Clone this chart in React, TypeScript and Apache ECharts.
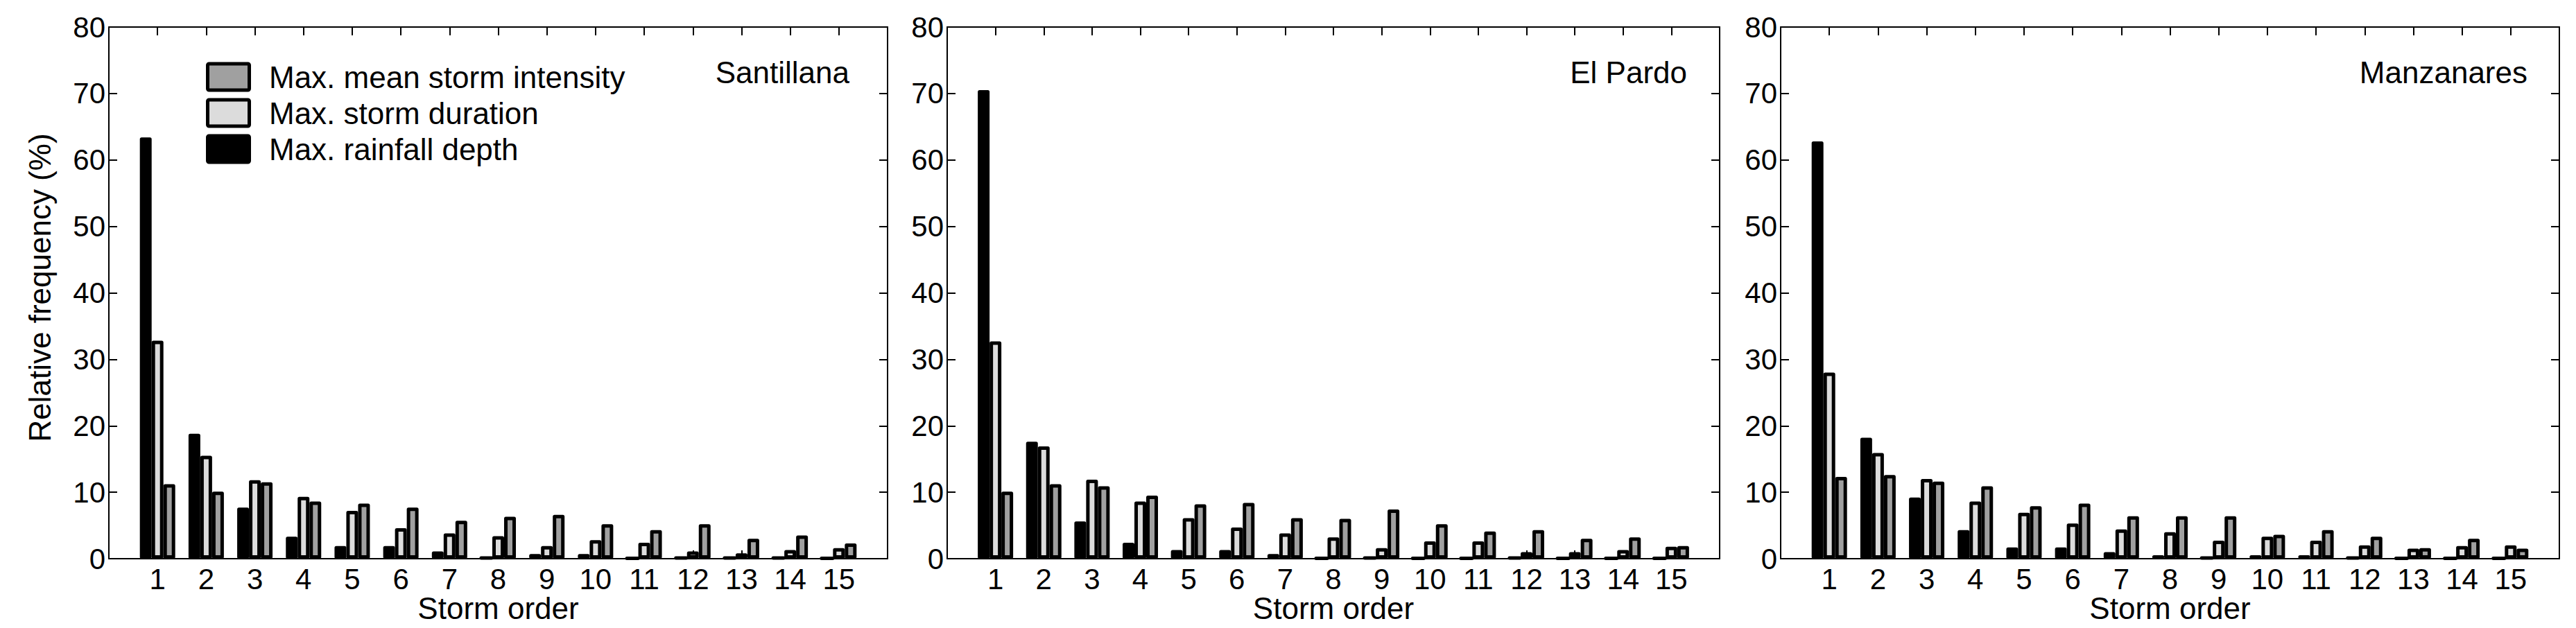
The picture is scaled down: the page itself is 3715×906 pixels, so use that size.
import React, { useEffect, useRef } from "react";
import * as echarts from "echarts";

const stormOrder = [1, 2, 3, 4, 5, 6, 7, 8, 9, 10, 11, 12, 13, 14, 15];
const yTicks = [0, 10, 20, 30, 40, 50, 60, 70, 80];

const seriesNames = ["Max. rainfall depth", "Max. storm duration", "Max. mean storm intensity"];
const legendOrder = [2, 1, 0];
const stations = ["Santillana", "El Pardo", "Manzanares"];

const santillanaDepth = [63.4, 18.8, 7.7, 3.3, 1.9, 1.9, 1.1, 0.2, 0.7, 0.7, 0.1, 0.2, 0.2, 0.2, 0.1];
const santillanaDuration = [32.8, 15.5, 11.8, 9.3, 7.2, 4.6, 3.8, 3.4, 1.9, 2.8, 2.4, 1.1, 0.8, 1.3, 1.6];
const santillanaIntensity = [11.2, 10.1, 11.5, 8.6, 8.3, 7.7, 5.7, 6.3, 6.6, 5.2, 4.3, 5.2, 3.0, 3.5, 2.3];

const elPardoDepth = [70.5, 17.6, 5.6, 2.4, 1.3, 1.3, 0.7, 0.1, 0.2, 0.1, 0.1, 0.2, 0.1, 0.1, 0.1];
const elPardoDuration = [32.7, 16.9, 11.9, 8.6, 6.1, 4.7, 3.8, 3.2, 1.6, 2.6, 2.6, 1.0, 1.0, 1.3, 1.8];
const elPardoIntensity = [10.1, 11.2, 10.9, 9.5, 8.2, 8.4, 6.1, 6.0, 7.4, 5.2, 4.1, 4.3, 3.0, 3.2, 1.9];

const manzanaresDepth = [62.8, 18.2, 9.2, 4.3, 1.7, 1.7, 1.0, 0.5, 0.2, 0.5, 0.5, 0.2, 0.1, 0.1, 0.1];
const manzanaresDuration = [28.0, 15.9, 12.0, 8.6, 6.9, 5.3, 4.4, 4.0, 2.7, 3.3, 2.7, 2.0, 1.5, 1.9, 2.0];
const manzanaresIntensity = [12.3, 12.6, 11.6, 10.9, 7.9, 8.3, 6.4, 6.4, 6.4, 3.6, 4.3, 3.3, 1.6, 3.0, 1.5];

const panelData = [
  [santillanaDepth, santillanaDuration, santillanaIntensity],
  [elPardoDepth, elPardoDuration, elPardoIntensity],
  [manzanaresDepth, manzanaresDuration, manzanaresIntensity],
];

const FONT = "'Liberation Sans', Arial, Helvetica, sans-serif";
const barColors = ["#000000", "#dcdcdc", "#a0a0a0"];
const panels = [
  { left: 157, width: 1123, labelX: 1225 },
  { left: 1366, width: 1114, labelX: 2433 },
  { left: 2568, width: 1123, labelX: 3645 },
];
const TOP = 39;
const HEIGHT = 767;

export default function App() {
  const ref = useRef<HTMLDivElement>(null);
  useEffect(() => {
    if (!ref.current) return;
    const chart = echarts.init(ref.current, undefined, { renderer: "svg" });
    const line = { color: "#000", width: 2 };
    const grid: any[] = [];
    const xAxis: any[] = [];
    const yAxis: any[] = [];
    const series: any[] = [];
    const graphic: any[] = [];
    panels.forEach((p, i) => {
      grid.push({ left: p.left, top: TOP, width: p.width, height: HEIGHT, containLabel: false });
      xAxis.push({
        type: "value", gridIndex: i, min: 0, max: 16, interval: 1, position: "bottom",
        axisLine: { show: true, onZero: false, lineStyle: line },
        axisTick: { show: true, inside: true, length: 12, lineStyle: line },
        axisLabel: {
          formatter: (v: number) => (stormOrder.includes(v) ? String(v) : ""),
          color: "#000", fontSize: 42, fontFamily: FONT, margin: 8,
        },
        splitLine: { show: false },
      });
      xAxis.push({
        type: "value", gridIndex: i, min: 0, max: 16, interval: 1, position: "top",
        axisLine: { show: true, onZero: false, lineStyle: line },
        axisTick: { show: true, inside: true, length: 12, lineStyle: line },
        axisLabel: { show: false },
        splitLine: { show: false },
      });
      yAxis.push({
        type: "value", gridIndex: i, min: yTicks[0], max: yTicks[yTicks.length - 1], interval: 10, position: "left",
        axisLine: { show: true, onZero: false, lineStyle: line },
        axisTick: { show: true, inside: true, length: 12, lineStyle: line },
        axisLabel: { color: "#000", fontSize: 42, fontFamily: FONT, margin: 5 },
        splitLine: { show: false },
      });
      yAxis.push({
        type: "value", gridIndex: i, min: 0, max: 80, interval: 10, position: "right",
        axisLine: { show: true, onZero: false, lineStyle: line },
        axisTick: { show: true, inside: true, length: 12, lineStyle: line },
        axisLabel: { show: false },
        splitLine: { show: false },
      });
      seriesNames.forEach((name, j) => {
        series.push({
          type: "bar", name, xAxisIndex: 2 * i, yAxisIndex: 2 * i,
          data: stormOrder.map((x, k) => [x, panelData[i][j][k]]),
          barWidth: 17, barGap: "0%",
          itemStyle: { color: barColors[j], borderColor: "#000", borderWidth: 5, borderJoin: "round" },
          silent: true,
        });
      });
      graphic.push({
        type: "text", x: p.labelX, y: 104,
        style: { text: stations[i], fontSize: 44, fontFamily: FONT, fill: "#000", align: "right", verticalAlign: "middle" },
      });
      graphic.push({
        type: "text", x: p.left + p.width / 2, y: 877,
        style: { text: "Storm order", fontSize: 44, fontFamily: FONT, fill: "#000", align: "center", verticalAlign: "middle" },
      });
    });
    graphic.push({
      type: "text", x: 57, y: 415, rotation: Math.PI / 2,
      style: { text: "Relative frequency (%)", fontSize: 44, fontFamily: FONT, fill: "#000", align: "center", verticalAlign: "middle" },
    });
    // legend (first panel)
    legendOrder.forEach((j, r) => {
      const cy = 111 + r * 52;
      graphic.push({
        type: "rect",
        shape: { x: 299.5, y: cy - 19, width: 60, height: 38, r: 2 },
        style: { fill: barColors[j], stroke: "#000", lineWidth: 5, lineJoin: "round" },
        z: 10,
      });
      graphic.push({
        type: "text", x: 388, y: cy,
        style: { text: seriesNames[j], fontSize: 44, fontFamily: FONT, fill: "#000", align: "left", verticalAlign: "middle" },
        z: 10,
      });
    });
    chart.setOption({
      animation: false,
      backgroundColor: "#fff",
      grid, xAxis, yAxis, series, graphic,
    });
    return () => chart.dispose();
  }, []);
  return <div ref={ref} style={{ position: "absolute", left: 0, top: 0, width: 3715, height: 906 }} />;
}
